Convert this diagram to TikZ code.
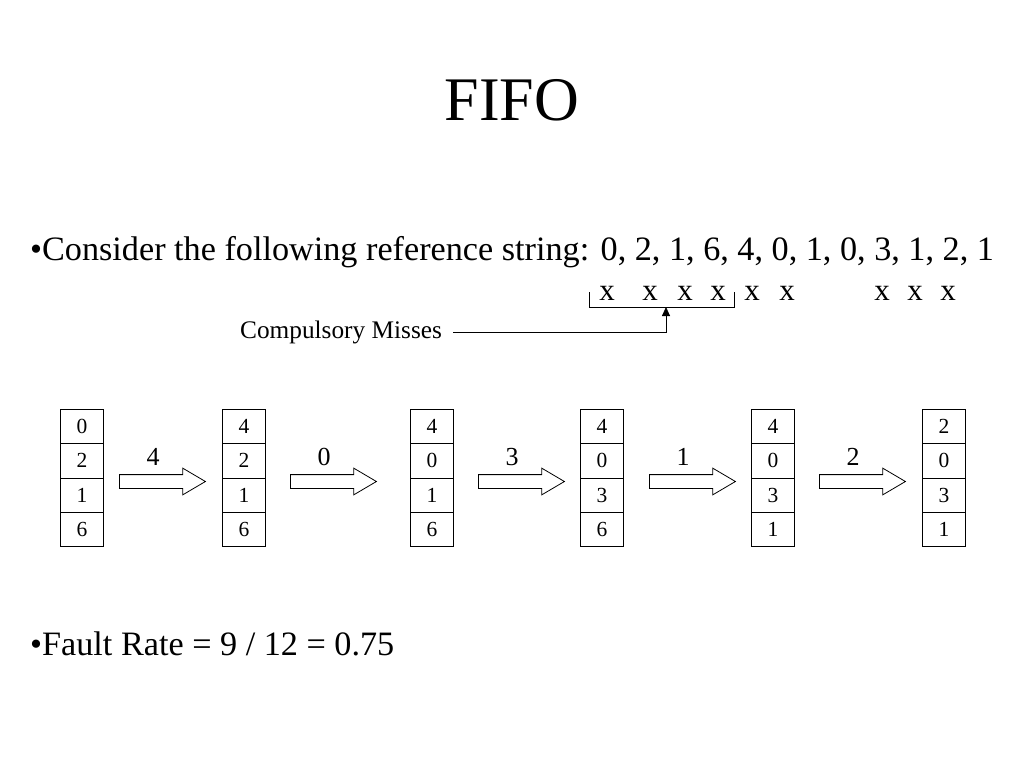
\documentclass[tikz,border=0pt]{standalone}
\usepackage{fontspec}
\setmainfont{Liberation Serif}
\usetikzlibrary{shapes.arrows,arrows.meta}
\begin{document}
\begin{tikzpicture}[x=1pt,y=-1pt,
  cell/.style={draw,line width=0.8pt,minimum width=43pt,minimum height=34.25pt,inner sep=0pt,font=\fontsize{21.5}{21.5}\selectfont,anchor=north west},
  blockarrow/.style={single arrow,draw,line width=0.8pt,minimum height=86pt,inner xsep=0pt,inner ysep=6.5pt,single arrow head extend=6.5pt,single arrow tip angle=61,anchor=tail},
  steplabel/.style={font=\fontsize{26}{26}\selectfont},
  xmark/.style={font=\fontsize{31}{31}\selectfont,anchor=base},
  bigtext/.style={font=\fontsize{34.2}{34.2}\selectfont,anchor=base west,inner sep=0pt}]
\useasboundingbox (0,0) rectangle (1024,768);
\node (title) at (512,100) {\fontsize{62}{62}\selectfont FIFO};
\node[bigtext] (ref) at (30,260) {•Consider the following reference string: 0, 2, 1, 6, 4, 0, 1, 0, 3, 1, 2, 1};
\foreach \i/\xx in {1/607,2/650,3/685,4/718,5/752,6/787,7/882,8/915,9/948}
  \node[xmark] (x\i) at (\xx,300) {x};
\coordinate (bl) at (589,292);
\coordinate (br) at (734,292);
\draw[line width=0.8pt] (bl) -- (589,307) -- (734,307) -- (br);
\node[anchor=base west,inner sep=0pt,font=\fontsize{25.3}{25.3}\selectfont] (cm) at (240,338) {Compulsory Misses};
\coordinate (cmend) at (453,332);
\coordinate (brk) at (666,307);
\draw[line width=0.8pt,-{Triangle[length=9pt,width=8pt]}] (cmend) -- (666,332) -- (brk);
\newcommand{\framecol}[6]{%
  \node[cell] (#1a) at (#2,409) {#3};
  \node[cell] (#1b) at (#2,443.25) {#4};
  \node[cell] (#1c) at (#2,477.5) {#5};
  \node[cell] (#1d) at (#2,511.75) {#6};}
\framecol{c1}{60}{0}{2}{1}{6}
\framecol{c2}{222}{4}{2}{1}{6}
\framecol{c3}{410}{4}{0}{1}{6}
\framecol{c4}{580}{4}{0}{3}{6}
\framecol{c5}{751}{4}{0}{3}{1}
\framecol{c6}{922}{2}{0}{3}{1}
\foreach \i/\xx/\lab in {1/119/4,2/290/0,3/478/3,4/649/1,5/819/2}{
  \node[blockarrow] (a\i) at (\xx,481.5) {};
  \node[steplabel] (l\i) at (\xx+34,457) {\lab};
}
\node[bigtext] (fr) at (30,655) {•Fault Rate = 9 / 12 = 0.75};
\end{tikzpicture}
\end{document}
